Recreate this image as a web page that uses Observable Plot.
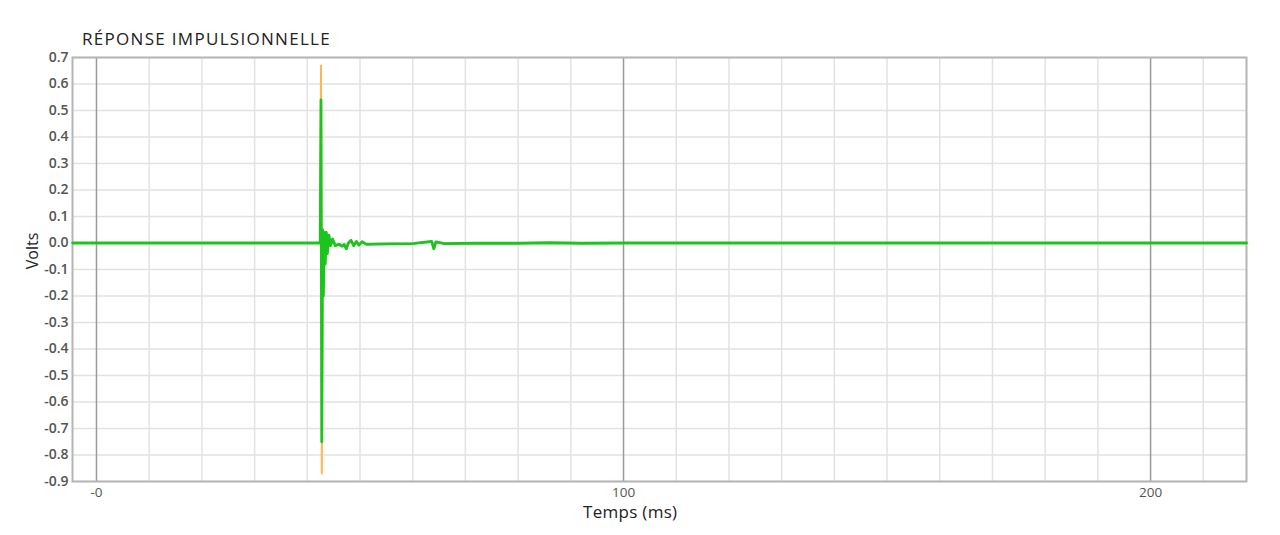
<!DOCTYPE html>
<html><head><meta charset="utf-8">
<script src="https://cdn.jsdelivr.net/npm/d3@7"></script>
<script src="https://cdn.jsdelivr.net/npm/@observablehq/plot@0.6"></script>
<style>
body{margin:0;background:#fff;}
#wrap{position:relative;width:1280px;height:535px;}
#title{position:absolute;left:82px;top:27px;font-family:"Open Sans",sans-serif;font-size:17px;color:#222;letter-spacing:1.3px;}
#xlabel{position:absolute;left:583px;top:500px;font-family:"Open Sans",sans-serif;font-size:17px;color:#222;letter-spacing:0.3px;}
#ylabel{position:absolute;left:32px;top:251px;font-family:"Open Sans",sans-serif;font-size:16px;color:#222;transform:translate(-50%,-50%) rotate(-90deg);white-space:nowrap;}
</style></head>
<body><div id="wrap"><div id="title">RÉPONSE IMPULSIONNELLE</div><div id="xlabel">Temps (ms)</div><div id="ylabel">Volts</div></div>
<script>
// time in ms
const timeMs = [-4.5, 10, 30, 42.2, 42.45, 42.6, 42.75, 42.9, 43.05, 43.2, 43.4, 43.6, 43.8, 44.1, 44.4, 44.8, 45.3, 46.0, 46.6, 47.0, 47.4, 47.8, 48.3, 48.8, 49.3, 49.8, 50.4, 51.2, 53, 56, 60, 63.6, 64.0, 64.4, 66, 72, 80, 86, 92, 100, 140, 180, 218.2];
const greenVolts = [0, 0, 0, 0, 0.0, 0.54, -0.75, 0.05, -0.20, 0.04, -0.08, 0.04, -0.04, 0.03, -0.01, 0.015, -0.01, -0.005, -0.012, -0.006, -0.022, 0.0, 0.01, -0.01, 0.006, -0.008, 0.005, -0.005, -0.004, -0.003, -0.002, 0.006, -0.022, 0.004, -0.002, -0.001, -0.001, 0.001, -0.001, 0, 0, 0, 0];
const orangeVolts = [0, 0, 0, 0, 0.0, 0.67, -0.87, 0.05, -0.20, 0.04, -0.08, 0.04, -0.04, 0.03, -0.01, 0.015, -0.01, -0.005, -0.012, -0.006, -0.022, 0.0, 0.01, -0.01, 0.006, -0.008, 0.005, -0.005, -0.004, -0.003, -0.002, 0.006, -0.022, 0.004, -0.002, -0.001, -0.001, 0.001, -0.001, 0, 0, 0, 0];
const yTicks = [0.7, 0.6, 0.5, 0.4, 0.3, 0.2, 0.1, 0.0, -0.1, -0.2, -0.3, -0.4, -0.5, -0.6, -0.7, -0.8, -0.9];
const xMajorTicks = [0, 100, 200];
const xTickLabels = ["-0", "100", "200"];
const xMinorTicks = [10, 20, 30, 40, 50, 60, 70, 80, 90, 110, 120, 130, 140, 150, 160, 170, 180, 190, 210];

const orange = timeMs.map((t, i) => ({t, v: orangeVolts[i]}));
const green = timeMs.map((t, i) => ({t, v: greenVolts[i]}));

const chart = Plot.plot({
  width: 1280, height: 535,
  marginLeft: 72, marginRight: 34, marginTop: 57, marginBottom: 54,
  style: {fontFamily: "'Open Sans', sans-serif", fontSize: "14px", color: "#555", background: "transparent"},
  x: {domain: [-4.55, 218.2]},
  y: {domain: [-0.9, 0.7]},
  marks: [
    Plot.ruleY(yTicks, {stroke: "#e2e2e2", strokeWidth: 1.5}),
    Plot.ruleX(xMinorTicks, {stroke: "#e2e2e2", strokeWidth: 1.5}),
    Plot.ruleX(xMajorTicks, {stroke: "#9a9a9a", strokeWidth: 1.5}),
    Plot.frame({stroke: "#b5b5b5", strokeWidth: 2}),
    Plot.axisY({ticks: yTicks, tickSize: 0, tickPadding: 4, tickFormat: d => d.toFixed(1), label: null, fontWeight: 600}),
    Plot.axisX({ticks: xMajorTicks, tickSize: 0, tickPadding: 6, tickFormat: (d, i) => xTickLabels[i], label: null, fontSize: 13.5}),
    Plot.line(orange, {x: "t", y: "v", stroke: "#ffb755", strokeWidth: 2}),
    Plot.line(green, {x: "t", y: "v", stroke: "#1dc41d", strokeWidth: 2.8})
  ]
});
document.getElementById("wrap").prepend(chart);
chart.style.position = "absolute"; chart.style.left = "0"; chart.style.top = "0";
</script>
</body></html>
